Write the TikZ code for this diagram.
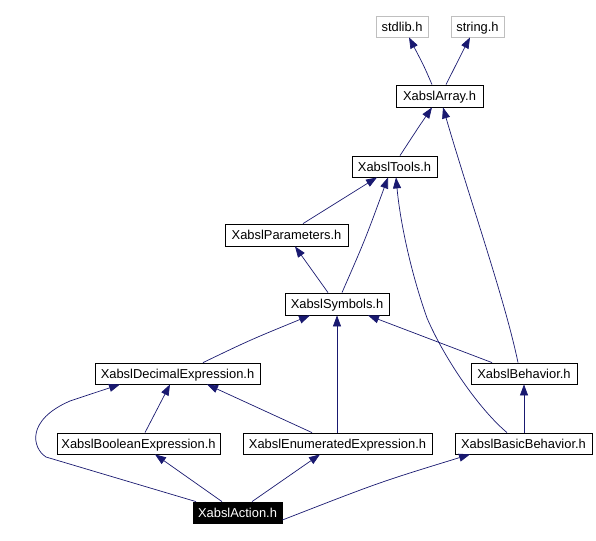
\documentclass[tikz,border=0pt]{standalone}
\usepackage{fontspec}
\setmainfont{Liberation Sans}
\usetikzlibrary{arrows.meta}
\definecolor{navyedge}{RGB}{25,25,112}
\definecolor{greyframe}{RGB}{191,191,191}
\begin{document}
\begin{tikzpicture}[x=1pt,y=-1pt,
  hbox/.style={draw=black,line width=0.8pt,inner sep=0pt,minimum height=21pt,text height=9.4pt,text depth=0pt,font=\fontsize{12.9}{14}\selectfont},
  gbox/.style={hbox,draw=greyframe},
  abox/.style={hbox,fill=black,text=white},
  edge/.style={draw=navyedge,line width=0.7pt,-{Triangle[length=11pt,width=8pt]}}]
\useasboundingbox (0,0) rectangle (596,540);
\node[gbox,minimum width=52pt] (stdlib) at (402,26.5) {stdlib.h};
\node[gbox,minimum width=53pt] (string) at (477.5,26.5) {string.h};
\node[hbox,minimum width=87pt,minimum height=22pt] (arr) at (439.5,96) {XabslArray.h};
\node[hbox,minimum width=85pt] (tools) at (394.5,166.5) {XabslTools.h};
\node[hbox,minimum width=123pt,minimum height=22pt] (par) at (286.5,235) {XabslParameters.h};
\node[hbox,minimum width=104pt,minimum height=22pt] (sym) at (337,304) {XabslSymbols.h};
\node[hbox,minimum width=165pt] (dec) at (177.5,373.5) {XabslDecimalExpression.h};
\node[hbox,minimum width=106pt] (beh) at (524,373.5) {XabslBehavior.h};
\node[hbox,minimum width=163pt] (bool) at (138.5,443.5) {XabslBooleanExpression.h};
\node[hbox,minimum width=189pt] (enum) at (337.5,443.5) {XabslEnumeratedExpression.h};
\node[hbox,minimum width=137pt] (bb) at (523.5,443.5) {XabslBasicBehavior.h};
\node[abox,minimum width=89pt] (act) at (237.5,512.5) {XabslAction.h};
% edges
\draw[edge] ([xshift=-7.5pt]arr.north) .. controls (424,66) .. ([xshift=7pt]stdlib.south);
\draw[edge] ([xshift=6.5pt]arr.north) .. controls (455,66) .. ([xshift=-7.5pt]string.south);
\draw[edge] ([xshift=5.5pt]tools.north) .. controls (418,128) .. ([xshift=-7.5pt]arr.south);
\draw[edge] ([xshift=-6pt]beh.north) .. controls (505,300) and (470,200) .. ([xshift=3.5pt]arr.south);
\draw[edge] ([xshift=16.5pt]par.north) -- ([xshift=-17.5pt]tools.south);
\draw[edge] ([xshift=5pt]sym.north) .. controls (365,240) .. ([xshift=-6.5pt]tools.south);
\coordinate (bbmid) at (427,318);
\draw[edge] ([xshift=-16.5pt]bb.north) .. controls (480,410) and (445,360) .. (bbmid) .. controls (410,270) and (400,220) .. ([xshift=1.5pt]tools.south);
\draw[edge] ([xshift=-9pt]sym.north) -- ([xshift=8.5pt]par.south);
\draw[edge] ([xshift=25.5pt]dec.north) .. controls (250,340) .. ([xshift=-27pt]sym.south);
\draw[edge] (sym.south |- enum.north) -- (sym.south);
\draw[edge] ([xshift=-32pt]beh.north) -- ([xshift=31pt]sym.south);
\draw[edge] ([xshift=6.5pt]bool.north) -- ([xshift=-7.5pt]dec.south);
\draw[edge] ([xshift=-25.5pt]enum.north) -- ([xshift=29.5pt]dec.south);
\draw[edge] (beh.south |- bb.north) -- (beh.south);
\coordinate (ad1) at (46,457);
\coordinate (ad2) at (70,401);
\draw[edge] ([xshift=-41.5pt]act.north) -- (ad1) .. controls (32,448) and (26,420) .. (ad2) -- ([xshift=-57.5pt]dec.south);
\draw[edge] ([xshift=-15.5pt]act.north) -- ([xshift=16.5pt]bool.south);
\draw[edge] ([xshift=14.5pt]act.north) -- ([xshift=-17.5pt]enum.south);
\draw[edge] ([yshift=-7.5pt]act.east) .. controls (380,482) .. ([xshift=-53.5pt]bb.south);
\end{tikzpicture}
\end{document}
